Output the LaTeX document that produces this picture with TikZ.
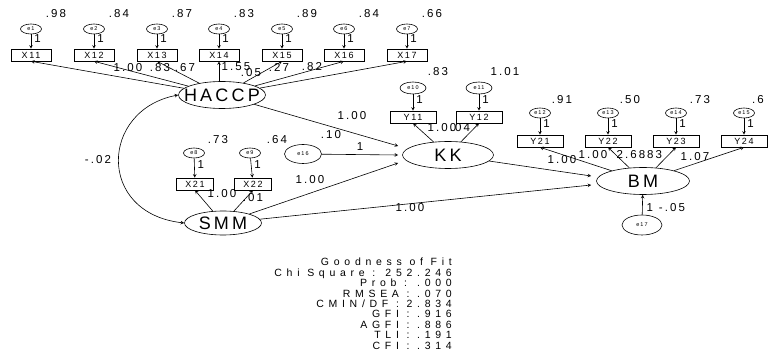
\documentclass[tikz,border=0pt]{standalone}
\usepackage{fontspec}
\setmainfont{Liberation Sans}
\newfontfamily\amosfont[LetterSpace=18]{Liberation Sans}
\newfontfamily\fitfont[LetterSpace=45]{Liberation Sans}
\usetikzlibrary{shapes}
\tikzstyle{line} = [line width=0.6pt, -]
\tikzstyle{arrow} = [line width=0.6pt, ->, >=stealth]
\tikzstyle{darrow} = [line width=0.6pt, <->, >=stealth]
\tikzstyle{obs} = [draw, line width=0.6pt, rectangle, minimum width=40pt, minimum height=12pt, inner sep=0pt, font=\amosfont\fontsize{9}{9}\selectfont]
\tikzstyle{wobs} = [obs, minimum width=46pt]
\tikzstyle{err} = [draw, line width=0.6pt, ellipse, minimum width=21pt, minimum height=10pt, inner sep=0pt, font=\amosfont\fontsize{5.5}{5.5}\selectfont]
\tikzstyle{berr} = [err, minimum width=37pt, minimum height=19pt]
\tikzstyle{latent} = [draw, line width=0.6pt, ellipse, inner sep=0pt]
\tikzstyle{lname} = [font=\amosfont\fontsize{18}{18}\selectfont, inner sep=0pt]
\tikzstyle{est} = [font=\amosfont\fontsize{11.5}{11.5}\selectfont, inner sep=0pt]
\tikzstyle{one} = [font=\amosfont\fontsize{11.5}{11.5}\selectfont, inner sep=0pt, right=3pt, pos=0.3]

\begin{document}
\begin{tikzpicture}[x=1pt,y=-1pt]
        \useasboundingbox (0,0) rectangle (769,358);

        % Latent variables
        \node[latent, minimum width=87pt, minimum height=27pt, label={[lname]center:HACCP}] (hac) at (222,95) {};
        \node[latent, minimum width=91pt, minimum height=27pt, label={[lname]center:KK}] (kk) at (448,155) {};
        \node[latent, minimum width=77pt, minimum height=24pt, label={[lname]center:SMM}] (smm) at (223,223) {};
        \node[latent, minimum width=93pt, minimum height=27pt, label={[lname]center:BM}] (bm) at (643,181) {};

        % HACCP indicators
        \node[obs] (x11) at (31,55) {X11};
        \node[obs] (x12) at (94,55) {X12};
        \node[obs] (x13) at (157,55) {X13};
        \node[obs] (x14) at (219,55) {X14};
        \node[obs] (x15) at (282,55) {X15};
        \node[obs] (x16) at (344,55) {X16};
        \node[obs] (x17) at (407,55) {X17};
        \node[err] (e1) at (31,29) {e1};
        \node[err] (e2) at (94,29) {e2};
        \node[err] (e3) at (157,29) {e3};
        \node[err] (e4) at (219,29) {e4};
        \node[err] (e5) at (282,29) {e5};
        \node[err] (e6) at (344,29) {e6};
        \node[err] (e7) at (407,29) {e7};
        \node[est] (v1) at (56,14) {.98};
        \node[est] (v2) at (119,14) {.84};
        \node[est] (v3) at (182,14) {.87};
        \node[est] (v4) at (244,14) {.83};
        \node[est] (v5) at (307,14) {.89};
        \node[est] (v6) at (369,14) {.84};
        \node[est] (v7) at (432,14) {.66};

        % SMM indicators
        \node[obs, minimum width=37pt] (x21) at (195,184) {X21};
        \node[obs, minimum width=37pt] (x22) at (253,184) {X22};
        \node[err] (e8) at (194,153) {e8};
        \node[err] (e9) at (250,153) {e9};
        \node[est] (v8) at (218,140) {.73};
        \node[est] (v9) at (277,140) {.64};

        % KK indicators
        \node[wobs] (y11) at (413,117) {Y11};
        \node[wobs] (y12) at (479,117) {Y12};
        \node[err, minimum width=26pt, minimum height=12pt] (e10) at (413,88) {e10};
        \node[err, minimum width=26pt, minimum height=12pt] (e11) at (479,88) {e11};
        \node[est] (v10) at (438,72) {.83};
        \node[est] (v11) at (505,72) {1.01};

        % BM indicators
        \node[wobs] (y21) at (540,141) {Y21};
        \node[wobs] (y22) at (608,141) {Y22};
        \node[wobs] (y23) at (676,141) {Y23};
        \node[wobs] (y24) at (744,141) {Y24};
        \node[err] (e12) at (540,113) {e12};
        \node[err] (e13) at (608,113) {e13};
        \node[err] (e14) at (676,113) {e14};
        \node[err] (e15) at (744,113) {e15};
        \node[est] (v12) at (562,100) {.91};
        \node[est] (v13) at (630,100) {.50};
        \node[est] (v14) at (700,100) {.73};
        \node[est] (v15) at (758,100) {.6};

        % Disturbances
        \node[berr] (e16) at (303,154) {e16};
        \node[berr, minimum width=40pt, minimum height=20pt] (e17) at (642,225) {e17};
        \node[est] (v16) at (331,135) {.10};
        \node[est] (v17) at (672,208) {-.05};

        % Draw Arrows
        \draw[arrow] (e1) -- (x11) node[one] {1};
        \draw[arrow] (e2) -- (x12) node[one] {1};
        \draw[arrow] (e3) -- (x13) node[one] {1};
        \draw[arrow] (e4) -- (x14) node[one] {1};
        \draw[arrow] (e5) -- (x15) node[one] {1};
        \draw[arrow] (e6) -- (x16) node[one] {1};
        \draw[arrow] (e7) -- (x17) node[one] {1};
        \draw[arrow] (e8) -- (x21) node[one] {1};
        \draw[arrow] (e9) -- (x22) node[one] {1};
        \draw[arrow] (e10) -- (y11) node[one] {1};
        \draw[arrow] (e11) -- (y12) node[one] {1};
        \draw[arrow] (e12) -- (y21) node[one] {1};
        \draw[arrow] (e13) -- (y22) node[one] {1};
        \draw[arrow] (e14) -- (y23) node[one] {1};
        \draw[arrow] (e15) -- (y24) node[one] {1};

        \draw[arrow] (hac) -- (x11.south);
        \draw[arrow] (hac) -- (x12.south);
        \draw[arrow] (hac) -- (x13.south);
        \draw[arrow] (hac.north -| x14) -- (x14.south);
        \draw[arrow] (hac) -- (x15.south);
        \draw[arrow] (hac) -- (x16.south);
        \draw[arrow] (hac) -- (x17.south);
        \draw[arrow] (smm) -- (x21.south);
        \draw[arrow] (smm) -- (x22.south);
        \draw[arrow] (kk) -- (y11.south);
        \draw[arrow] (kk) -- (y12.south);
        \draw[arrow] (bm) -- (y21.south);
        \draw[arrow] (bm) -- (y22.south);
        \draw[arrow] (bm) -- (y23.south);
        \draw[arrow] (bm) -- (y24.south);

        \draw[arrow] (hac) -- ([shift={(-4,-9)}]kk.west);
        \draw[arrow] (e16) -- ([shift={(-4,0)}]kk.west) node[est, midway, above=4pt] {1};
        \draw[arrow] (smm) -- ([shift={(-4,8)}]kk.west);
        \draw[arrow] (kk) -- ([shift={(-5,-5)}]bm.west);
        \draw[arrow] (smm) -- ([shift={(-5,4)}]bm.west);
        \draw[arrow] (e17) -- (bm) node[est, pos=0.35, right=4pt] {1};

        \draw[darrow] (hac.west) .. controls +(-78,15) and +(-88,-10) .. (smm.west);
        \node[est] (cov) at (98,160) {-.02};

        % Path estimates
        \node[est] (l11) at (128,68) {1.00};
        \node[est] (l12) at (160,68) {.83};
        \node[est] (l13) at (185,68) {.67};
        \node[est] (l14) at (236,67) {1.55};
        \node[est] (l15) at (251,73) {.05};
        \node[est] (l16) at (279,67) {.27};
        \node[est] (l17) at (312,67) {.82};
        \node[est] (l21) at (222,194) {1.00};
        \node[est] (l22) at (253,198) {.01};
        \node[est] (lhk) at (352,116) {1.00};
        \node[est] (lsk) at (310,180) {1.00};
        \node[est] (lsb) at (410,208) {1.00};
        \node[est] (l31) at (442,128) {1.00};
        \node[est] (l32) at (460,128) {.04};
        \node[est] (l41) at (562,160) {1.00};
        \node[est] (l42) at (593,155) {1.00};
        \node[est] (l43) at (631,155) {2.68};
        \node[est] (l44) at (652,155) {.83};
        \node[est] (l45) at (695,157) {1.07};

        % Fit statistics
        \node[font=\fitfont\fontsize{10.5}{10.4}\selectfont, align=right, anchor=north east, inner sep=0pt] (fit) at (452,258) {Goodness of Fit\\Chi Square : 252.246\\Prob : .000\\RMSEA : .070\\CMIN/DF : 2.834\\GFI : .916\\AGFI : .886\\TLI : .191\\CFI : .314};

    \end{tikzpicture}
\end{document}
